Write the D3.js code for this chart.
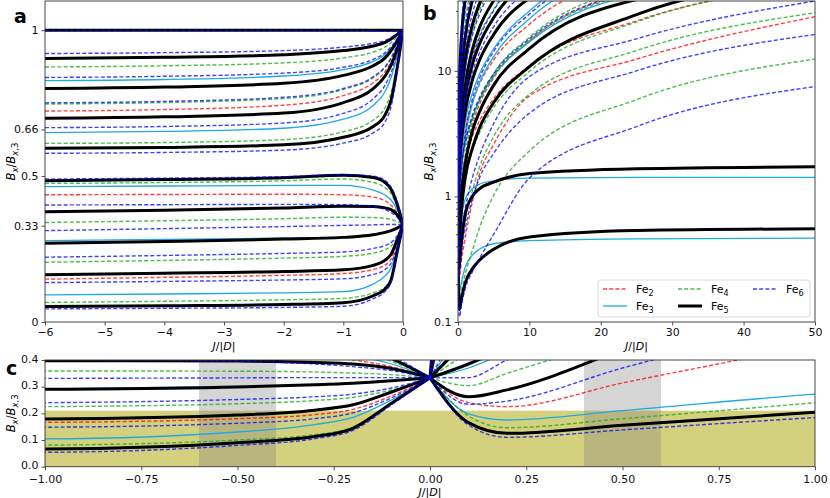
<!DOCTYPE html>
<html>
<head>
<meta charset="utf-8">
<script src="https://cdn.jsdelivr.net/npm/d3@7"></script>
<style>
  body { margin: 0; background: #fff; }
  text { font-family: "DejaVu Sans", sans-serif; }
</style>
</head>
<body>
<script>
// J/|D| grids for the two branches
const jNeg = [-6, -4, -2, -1, -0.5, -0.3, -0.2, -0.1, 0];
const jPos = [0, 0.1, 0.2, 0.5, 1, 2, 3, 5, 10, 25, 50];

// Fe2
const fe2Neg = [
  [1, 1, 1, 1, 1, 1, 1, 1, 1],
  [0.723, 0.728, 0.743, 0.776, 0.820, 0.858, 0.892, 0.940, 1],
  [0.436, 0.437, 0.438, 0.436, 0.428, 0.415, 0.400, 0.375, 0.333],
  [0.147, 0.153, 0.160, 0.166, 0.180, 0.195, 0.215, 0.265, 0.333]
];
const fe2Pos = [
  [0.333, 0.24, 0.225, 0.314, 0.463, 0.9, 1.5, 2.6, 6.3, 12.4, 27],
  [1, 1.2, 1.45, 2.1, 3.3, 5.5, 7.8, 12.2, 23.5, 57],
  [0.333, 0.5, 0.68, 1.2, 2.0, 3.7, 5.4, 8.8, 17.3, 43],
  [1, 1.1, 1.2, 1.5, 2.0, 3.0, 4.0, 6.0, 11, 25, 50]
];

// Fe3
const fe3Neg = [
  [1, 1, 1, 1, 1, 1, 1, 1, 1],
  [0.827, 0.831, 0.843, 0.865, 0.893, 0.917, 0.938, 0.967, 1],
  [0.649, 0.653, 0.664, 0.695, 0.742, 0.790, 0.838, 0.910, 1],
  [0.464, 0.466, 0.468, 0.468, 0.452, 0.435, 0.418, 0.385, 0.333],
  [0.279, 0.283, 0.288, 0.292, 0.301, 0.308, 0.314, 0.323, 0.333],
  [0.093, 0.096, 0.100, 0.104, 0.130, 0.158, 0.185, 0.250, 0.333]
];
const fe3Pos = [
  [0.333, 0.198, 0.175, 0.21, 0.272, 0.34, 0.38, 0.42, 0.445, 0.46, 0.465],
  [0.333, 0.37, 0.43, 0.68, 0.95, 1.15, 1.25, 1.33, 1.40, 1.42, 1.42],
  [1, 2.1, 3.3, 6.8, 12.5, 24, 36, 60],
  [1, 1.3, 1.6, 2.4, 3.9, 6.6, 9.4, 15, 30, 72],
  [0.333, 0.55, 0.8, 1.6, 2.9, 5.4, 8.0, 13, 26, 65],
  [1, 1.15, 1.32, 1.8, 2.6, 4.2, 5.8, 9.1, 17, 41]
];

// Fe4
const fe4Neg = [
  [1, 1, 1, 1, 1, 1, 1, 1, 1],
  [0.874, 0.878, 0.888, 0.905, 0.925, 0.942, 0.957, 0.978, 1],
  [0.747, 0.752, 0.766, 0.797, 0.837, 0.872, 0.902, 0.946, 1],
  [0.612, 0.615, 0.625, 0.652, 0.692, 0.735, 0.785, 0.880, 1],
  [0.475, 0.478, 0.484, 0.490, 0.478, 0.460, 0.440, 0.395, 0.333],
  [0.341, 0.347, 0.354, 0.359, 0.358, 0.355, 0.351, 0.345, 0.333],
  [0.205, 0.211, 0.219, 0.225, 0.236, 0.248, 0.260, 0.288, 0.333],
  [0.067, 0.071, 0.076, 0.081, 0.100, 0.120, 0.148, 0.240, 0.333]
];
const fe4Pos = [
  [0.333, 0.19, 0.146, 0.18, 0.24, 0.37, 0.56, 1.02, 2.3, 5.9, 12.4],
  [0.333, 0.304, 0.35, 0.48, 0.65, 1.1, 1.7, 3.0, 6.5, 14.5, 29],
  [1, 3.3, 5.7, 12.5, 24, 47],
  [0.333, 1.2, 2.2, 5.2, 10, 20, 30, 50],
  [1, 1.6, 2.2, 4, 7, 13, 19, 31, 60],
  [0.333, 0.5, 0.7, 1.2, 2.1, 4.0, 5.8, 9.5, 18.5, 46],
  [1, 1.16, 1.33, 1.8, 2.6, 4.3, 5.9, 9.2, 17.4, 42],
  [0.333, 0.43, 0.52, 0.8, 1.3, 2.3, 3.2, 5.1, 9.9, 24.5, 49]
];

// Fe5
const fe5Neg = [
  [1, 1, 1, 1, 1, 1, 1, 1, 1],
  [0.903, 0.907, 0.916, 0.930, 0.946, 0.958, 0.970, 0.985, 1],
  [0.800, 0.805, 0.818, 0.845, 0.878, 0.905, 0.930, 0.962, 1],
  [0.698, 0.703, 0.716, 0.752, 0.800, 0.843, 0.880, 0.934, 1],
  [0.595, 0.598, 0.607, 0.633, 0.670, 0.710, 0.760, 0.868, 1],
  [0.484, 0.488, 0.494, 0.503, 0.495, 0.478, 0.455, 0.405, 0.333],
  [0.378, 0.383, 0.391, 0.397, 0.396, 0.391, 0.385, 0.368, 0.333],
  [0.270, 0.276, 0.284, 0.290, 0.299, 0.307, 0.313, 0.322, 0.333],
  [0.162, 0.167, 0.173, 0.179, 0.194, 0.212, 0.232, 0.280, 0.333],
  [0.053, 0.056, 0.060, 0.066, 0.090, 0.113, 0.144, 0.238, 0.333]
];
const fe5Pos = [
  [0.333, 0.165, 0.125, 0.155, 0.204, 0.265, 0.31, 0.38, 0.475, 0.535, 0.552],
  [0.333, 0.262, 0.288, 0.44, 0.72, 1.0, 1.15, 1.30, 1.52, 1.66, 1.72],
  [1, 4.6, 8.2, 19, 37, 73],
  [0.333, 2.1, 3.9, 9.3, 18.3, 36.3, 54],
  [1, 2.1, 3.2, 6.5, 12, 23, 34, 56],
  [0.333, 1.05, 1.8, 3.9, 7.5, 14.7, 22, 36.3, 72],
  [1, 1.5, 2.0, 3.5, 6.1, 11.2, 16.3, 26.5, 52],
  [1, 1.37, 1.74, 2.85, 4.7, 8.4, 12.1, 19.5, 38],
  [0.333, 0.48, 0.63, 1.07, 1.8, 3.3, 4.7, 7.7, 15, 37],
  [0.333, 0.385, 0.45, 0.8, 1.4, 2.4, 3.5, 5.6, 10.8, 28, 55]
];

// Fe6
const fe6Neg = [
  [1, 1, 1, 1, 0.998, 0.996, 0.996, 0.998, 1],
  [0.920, 0.923, 0.930, 0.942, 0.955, 0.965, 0.975, 0.987, 1],
  [0.838, 0.842, 0.853, 0.873, 0.900, 0.923, 0.943, 0.970, 1],
  [0.751, 0.756, 0.770, 0.800, 0.840, 0.875, 0.905, 0.948, 1],
  [0.666, 0.670, 0.682, 0.715, 0.765, 0.812, 0.855, 0.920, 1],
  [0.578, 0.581, 0.589, 0.613, 0.648, 0.686, 0.738, 0.855, 1],
  [0.490, 0.493, 0.498, 0.505, 0.500, 0.485, 0.462, 0.415, 0.333],
  [0.401, 0.402, 0.403, 0.402, 0.395, 0.385, 0.375, 0.360, 0.333],
  [0.313, 0.320, 0.327, 0.331, 0.333, 0.334, 0.334, 0.334, 0.333],
  [0.222, 0.228, 0.235, 0.240, 0.252, 0.262, 0.272, 0.295, 0.333],
  [0.135, 0.139, 0.144, 0.148, 0.163, 0.180, 0.202, 0.258, 0.333],
  [0.045, 0.047, 0.050, 0.054, 0.080, 0.105, 0.136, 0.232, 0.333]
];
const fe6Pos = [
  [0.333, 0.156, 0.11, 0.138, 0.184, 0.25, 0.32, 0.5, 1.4, 3.6, 7.5],
  [0.333, 0.234, 0.246, 0.37, 0.55, 0.95, 1.4, 2.2, 4.6, 10, 19.5],
  [0.333, 0.334, 0.40, 0.55, 0.8, 1.4, 2.1, 3.8, 9, 18, 36],
  [1, 5.5, 10, 23.5, 46],
  [0.333, 3.3, 6.3, 15.3, 30.3, 60],
  [1, 3, 5, 11, 21, 41],
  [0.333, 1.7, 3.1, 7.3, 14.3, 28.3, 42],
  [1, 1.9, 2.8, 5.5, 10, 19, 28, 46],
  [0.333, 0.93, 1.5, 3.3, 6.3, 12.3, 18.3, 30.3, 60],
  [1, 1.43, 1.86, 3.15, 5.3, 9.6, 13.9, 22.5, 44],
  [0.333, 0.6, 0.9, 1.7, 3.1, 5.9, 8.7, 14.3, 28.3, 70],
  [1, 1.17, 1.34, 1.85, 2.7, 4.4, 6.1, 9.5, 18, 43.5]
];

// tick values / labels
const aTicksY = [0, 0.33, 0.5, 0.66, 1];
const aTicksX = [-6, -5, -4, -3, -2, -1, 0];
const bTicksX = [0, 10, 20, 30, 40, 50];
const bTicksY = [0.1, 1, 10];
const cTicksX = [-1, -0.75, -0.5, -0.25, 0, 0.25, 0.5, 0.75, 1];
const cTicksY = [0, 0.1, 0.2, 0.3, 0.4];
const cBands = [[-0.6, -0.4], [0.4, 0.6]];
const cOliveTop = 0.21;

const series = [
  { name: "2", neg: fe2Neg, pos: fe2Pos, color: "#ff0000", width: 1.4, dash: "4,2.2", opacity: 0.75 },
  { name: "3", neg: fe3Neg, pos: fe3Pos, color: "#1eaae2", width: 1.3, dash: null, opacity: 1 },
  { name: "4", neg: fe4Neg, pos: fe4Pos, color: "#0fa80f", width: 1.4, dash: "4,2.2", opacity: 0.75 },
  { name: "5", neg: fe5Neg, pos: fe5Pos, color: "#000000", width: 3, dash: null, opacity: 1 },
  { name: "6", neg: fe6Neg, pos: fe6Pos, color: "#0000ff", width: 1.4, dash: "4,2.2", opacity: 0.75 }
];

const minus = s => s.replace("-", "\u2212");

const svg = d3.select("body").append("svg")
    .attr("width", 830)
    .attr("height", 498);

// panel boxes
const A = { x0: 45, x1: 403, y0: 1, y1: 322 };
const B = { x0: 458, x1: 815, y0: 1, y1: 322 };
const C = { x0: 45, x1: 815, y0: 360, y1: 466.7 };

const xa = d3.scaleLinear().domain([-6, 0]).range([A.x0, A.x1]);
const ya = d3.scaleLinear().domain([0, 1.1]).range([A.y1, A.y0]);
const xb = d3.scaleLinear().domain([0, 50]).range([B.x0, B.x1]);
const yb = d3.scaleLog().domain([0.1, 36]).range([B.y1, B.y0]);
const xc = d3.scaleLinear().domain([-1, 1]).range([C.x0, C.x1]);
const yc = d3.scaleLinear().domain([0, 0.4]).range([C.y1, C.y0]);

const defs = svg.append("defs");
function clip(id, p) {
  defs.append("clipPath").attr("id", id).append("rect")
      .attr("x", p.x0).attr("y", p.y0)
      .attr("width", p.x1 - p.x0).attr("height", p.y1 - p.y0);
}
clip("clipA", A); clip("clipB", B); clip("clipC", C);

// panel c background bands
const gBack = svg.append("g").attr("clip-path", "url(#clipC)");
gBack.append("rect")
    .attr("x", C.x0).attr("width", C.x1 - C.x0)
    .attr("y", yc(cOliveTop)).attr("height", yc(0) - yc(cOliveTop))
    .attr("fill", "#d4d17e");
gBack.selectAll("rect.band").data(cBands).join("rect")
    .attr("class", "band")
    .attr("x", d => xc(d[0])).attr("width", d => xc(d[1]) - xc(d[0]))
    .attr("y", C.y0).attr("height", C.y1 - C.y0)
    .attr("fill", "#808080").attr("opacity", 0.33);

function drawCurves(clipId, xs, ys, branches) {
  const g = svg.append("g").attr("clip-path", `url(#${clipId})`).attr("fill", "none");
  const line = d3.line().curve(d3.curveMonotoneX).x(d => xs(d[0])).y(d => ys(d[1]));
  series.forEach(s => {
    branches.forEach(br => {
      const grid = br === "neg" ? jNeg : jPos;
      s[br].forEach(vals => {
        g.append("path")
            .attr("d", line(vals.map((v, i) => [grid[i], v])))
            .attr("stroke", s.color)
            .attr("stroke-width", s.width)
            .attr("stroke-opacity", s.opacity)
            .attr("stroke-dasharray", s.dash)
            .attr("stroke-linejoin", "round");
      });
    });
  });
}

drawCurves("clipA", xa, ya, ["neg"]);
drawCurves("clipB", xb, yb, ["pos"]);
drawCurves("clipC", xc, yc, ["neg", "pos"]);

// axes
function styleAxis(g) {
  g.selectAll("path.domain").remove();
  g.selectAll("line").attr("stroke", "#222").attr("stroke-width", 0.8);
  g.selectAll("text").attr("font-size", 11).attr("fill", "#111")
      .style("font-family", "DejaVu Sans");
}

svg.append("g").attr("transform", `translate(0,${A.y1})`)
    .call(d3.axisBottom(xa).tickValues(aTicksX).tickSize(3.5).tickPadding(3)
      .tickFormat(d => minus(String(d))))
    .call(styleAxis);
svg.append("g").attr("transform", `translate(${A.x0},0)`)
    .call(d3.axisLeft(ya).tickValues(aTicksY).tickSize(3.5).tickPadding(3)
      .tickFormat(d => String(d)))
    .call(styleAxis);

svg.append("g").attr("transform", `translate(0,${B.y1})`)
    .call(d3.axisBottom(xb).tickValues(bTicksX).tickSize(3.5).tickPadding(3)
      .tickFormat(d => String(d)))
    .call(styleAxis);
svg.append("g").attr("transform", `translate(${B.x0},0)`)
    .call(d3.axisLeft(yb).tickValues(bTicksY).tickSize(3.5).tickPadding(3)
      .tickFormat(d => String(d)))
    .call(styleAxis);
const minorB = yb.ticks().filter(t => !bTicksY.some(m => Math.abs(m - t) < 1e-9));
svg.append("g").attr("transform", `translate(${B.x0},0)`)
    .call(d3.axisLeft(yb).tickValues(minorB).tickSize(2).tickFormat(""))
    .call(styleAxis);

svg.append("g").attr("transform", `translate(0,${C.y1})`)
    .call(d3.axisBottom(xc).tickValues(cTicksX).tickSize(3.5).tickPadding(5)
      .tickFormat(d => minus(d3.format(".2f")(d))))
    .call(styleAxis);
svg.append("g").attr("transform", `translate(${C.x0},0)`)
    .call(d3.axisLeft(yc).tickValues(cTicksY).tickSize(3.5).tickPadding(3)
      .tickFormat(d3.format(".1f")))
    .call(styleAxis)
    .call(g => g.selectAll("text").attr("dy", "0.2em"));

// frames
[A, B, C].forEach(p => {
  svg.append("rect")
      .attr("x", p.x0).attr("y", p.y0)
      .attr("width", p.x1 - p.x0).attr("height", p.y1 - p.y0)
      .attr("fill", "none").attr("stroke", "#333").attr("stroke-width", 0.9);
});

// axis labels
function xLabel(x, y) {
  const t = svg.append("text").attr("x", x).attr("y", y)
      .attr("text-anchor", "middle").attr("font-size", 11);
  t.append("tspan").attr("font-style", "italic").text("J");
  t.append("tspan").text("/|");
  t.append("tspan").attr("font-style", "italic").text("D");
  t.append("tspan").text("|");
}
function yLabel(x, y) {
  const t = svg.append("text")
      .attr("transform", `translate(${x},${y}) rotate(-90)`)
      .attr("text-anchor", "middle").attr("font-size", 11.5);
  t.append("tspan").attr("font-style", "italic").text("B");
  t.append("tspan").attr("font-style", "italic").attr("font-size", 8.5).attr("dy", 3).text("x");
  t.append("tspan").attr("dy", -3).text("/");
  t.append("tspan").attr("font-style", "italic").text("B");
  t.append("tspan").attr("font-style", "italic").attr("font-size", 8.5).attr("dy", 3).text("x");
  t.append("tspan").attr("font-size", 8.5).text(",3");
}
xLabel((A.x0 + A.x1) / 2, 350);
xLabel((B.x0 + B.x1) / 2, 350);
xLabel((C.x0 + C.x1) / 2, 496);
yLabel(15, (A.y0 + A.y1) / 2);
yLabel(433, (B.y0 + B.y1) / 2);
yLabel(15, (C.y0 + C.y1) / 2);

// panel letters
[["a", 14, 23], ["b", 423, 20], ["c", 6, 375]].forEach(([s, x, y]) => {
  svg.append("text").attr("x", x).attr("y", y)
      .attr("font-size", 19).attr("font-weight", "bold").text(s);
});

// legend
const leg = svg.append("g");
leg.append("rect")
    .attr("x", 598).attr("y", 280).attr("width", 212).attr("height", 37)
    .attr("rx", 3).attr("fill", "#fff").attr("fill-opacity", 0.85)
    .attr("stroke", "#d0d0d0").attr("stroke-width", 0.8);
const legPos = [[603, 289], [603, 306], [678, 289], [678, 306], [753, 289]];
series.forEach((s, i) => {
  const [lx, ly] = legPos[i];
  leg.append("line")
      .attr("x1", lx).attr("x2", lx + 24).attr("y1", ly).attr("y2", ly)
      .attr("stroke", s.color).attr("stroke-width", s.width)
      .attr("stroke-opacity", s.opacity).attr("stroke-dasharray", s.dash);
  const t = leg.append("text").attr("x", lx + 33).attr("y", ly + 4).attr("font-size", 11);
  t.append("tspan").text("Fe");
  t.append("tspan").attr("font-size", 8).attr("dy", 3).text(s.name);
});
</script>
</body>
</html>
